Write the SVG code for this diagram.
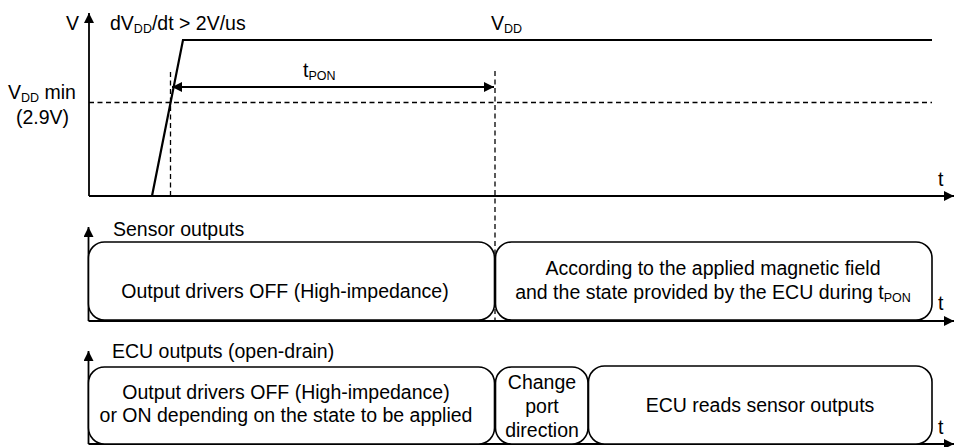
<svg xmlns="http://www.w3.org/2000/svg" width="954" height="447" viewBox="0 0 954 447">
<defs>
<style>
text{font-family:"Liberation Sans",Arial,sans-serif;font-size:19.5px;fill:#000}
.sub{font-size:12.5px}
.ax{stroke:#000;stroke-width:1.8;fill:none}
.sig{stroke:#000;stroke-width:2.2;fill:none}
.dash{stroke:#000;stroke-width:1.3;fill:none;stroke-dasharray:5,3.5}
.box{stroke:#000;stroke-width:1.6;fill:#fff}
.mid{text-anchor:middle}
</style>
<marker id="ah" viewBox="0 0 10 10" refX="10" refY="5" markerWidth="10" markerHeight="10" markerUnits="userSpaceOnUse" orient="auto-start-reverse">
<path d="M0,0 L10,5 L0,10 z" fill="#000"/>
</marker>
</defs>

<g id="connectors">
<line class="ax" x1="89" y1="196" x2="89" y2="13" marker-end="url(#ah)"/>
<line class="ax" x1="89" y1="196" x2="954" y2="196" marker-end="url(#ah)"/>
<polyline class="sig" points="152,196 183,40 932,40"/>
<line class="dash" x1="89" y1="102.5" x2="932" y2="102.5"/>
<line class="dash" x1="170.5" y1="72" x2="170.5" y2="196"/>
<line class="dash" x1="495" y1="71" x2="495" y2="320"/>
<line class="ax" x1="172" y1="87" x2="494" y2="87" stroke-width="1.4" marker-start="url(#ah)" marker-end="url(#ah)"/>
<line class="ax" x1="88.5" y1="321" x2="88.5" y2="227" marker-end="url(#ah)"/>
<line class="ax" x1="88.5" y1="321" x2="954" y2="321" marker-end="url(#ah)"/>
<line class="ax" x1="88.5" y1="444" x2="88.5" y2="351" marker-end="url(#ah)"/>
<line class="ax" x1="88.5" y1="444" x2="954" y2="444" marker-end="url(#ah)"/>
</g>

<g id="labels-top">
<text x="66" y="30">V</text>
<text x="110" y="30">dV<tspan class="sub" dy="3">DD</tspan><tspan dy="-3">/dt &gt; 2V/us</tspan></text>
<text x="491" y="30">V<tspan class="sub" dy="3">DD</tspan></text>
<text x="8" y="99">V<tspan class="sub" dy="3">DD</tspan><tspan dy="-3"> min</tspan></text>
<text x="16" y="124">(2.9V)</text>
<text x="303" y="77">t<tspan class="sub" dy="3">PON</tspan></text>
<text x="938" y="186">t</text>
</g>

<g id="sensor-label">
<text x="113" y="236">Sensor outputs</text>
<text x="938" y="310">t</text>
</g>

<g id="sensor-off">
<rect class="box" x="88.5" y="242" width="406" height="78" rx="16" ry="16"/>
<text class="mid" x="285" y="298">Output drivers OFF (High-impedance)</text>
</g>

<g id="sensor-on">
<rect class="box" x="495.5" y="242" width="436.5" height="78" rx="16" ry="16"/>
<text class="mid" x="713" y="275">According to the applied magnetic field</text>
<text class="mid" x="713" y="299">and the state provided by the ECU during t<tspan class="sub" dy="3">PON</tspan></text>
</g>

<g id="ecu-label">
<text x="112" y="358">ECU outputs (open-drain)</text>
<text x="938" y="434">t</text>
</g>

<g id="ecu-drive">
<rect class="box" x="88.5" y="367" width="406" height="77" rx="16" ry="16"/>
<text class="mid" x="286" y="399">Output drivers OFF (High-impedance)</text>
<text class="mid" x="286" y="422">or ON depending on the state to be applied</text>
</g>

<g id="ecu-change">
<rect class="box" x="495.5" y="367" width="92.5" height="77" rx="16" ry="16"/>
<text class="mid" x="542" y="389">Change</text>
<text class="mid" x="542" y="413">port</text>
<text class="mid" x="542" y="437">direction</text>
</g>

<g id="ecu-read">
<rect class="box" x="588.5" y="366" width="343.5" height="78" rx="16" ry="16"/>
<text class="mid" x="760" y="412">ECU reads sensor outputs</text>
</g>
</svg>
